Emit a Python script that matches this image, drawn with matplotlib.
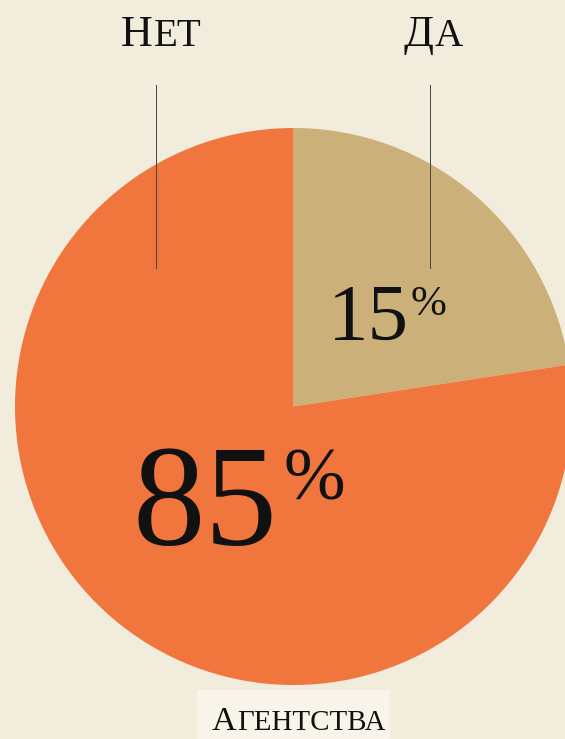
"""Pie chart: Агентства, Нет / Да"""

import matplotlib
matplotlib.use('Agg')
import matplotlib.pyplot as plt

# data
labels = ['Да', 'Нет']
shares = [15, 85]            # printed percentages
slice_sizes = [22.6, 77.4]   # slice sizes as drawn in the picture
colors = ['#CCB07A', '#F0763E']
title = 'Агентства'

W, H = 565, 739
BG = '#F2ECDC'


def pt(px):
    # pixel size -> points at dpi 100
    return px * 72 / 100


def Y(y):
    # image row -> data y
    return H - y


def small_caps(ax, word, x, y, big, small, **kw):
    # first letter large, rest as small caps, placed side by side
    t1 = ax.text(x, Y(y), word[0], fontsize=pt(big), va='baseline', ha='left', **kw)
    fig.canvas.draw()
    bb = t1.get_window_extent()
    x2 = ax.transData.inverted().transform((bb.x1, bb.y0))[0]
    ax.text(x2 + 1, Y(y), word[1:].upper(), fontsize=pt(small), va='baseline', ha='left', **kw)
    return x2


plt.rcParams['font.family'] = ['Liberation Serif', 'DejaVu Serif']

fig = plt.figure(figsize=(W / 100, H / 100), dpi=100, facecolor=BG)
ax = fig.add_axes([0, 0, 1, 1])

cx, cy, r = 293.5, 406.5, 278.5
ax.pie(slice_sizes, colors=colors, startangle=90, counterclock=False,
       center=(cx, Y(cy)), radius=r, frame=True,
       wedgeprops=dict(linewidth=0))
ax.set_xlim(0, W)
ax.set_ylim(0, H)
ax.set_aspect('equal')
ax.axis('off')

# percentages
ax.text(278, Y(545), str(shares[1]), fontsize=pt(145), ha='right', va='baseline', color='#111111')
ax.text(284, Y(499), '%', fontsize=pt(74), ha='left', va='baseline', color='#111111')
ax.text(409, Y(340), str(shares[0]), fontsize=pt(81), ha='right', va='baseline', color='#111111')
ax.text(410, Y(315), '%', fontsize=pt(43), ha='left', va='baseline', color='#111111')

# category labels with leader lines
small_caps(ax, labels[1], 121, 46, 44, 39, color='#111111')
small_caps(ax, labels[0], 404, 46, 44, 39, color='#111111')
ax.plot([156, 156], [Y(85), Y(268)], color='#444444', linewidth=0.7)
ax.plot([430, 430], [Y(85), Y(268)], color='#444444', linewidth=0.7)

# bottom caption on a lighter box
ax.add_patch(plt.Rectangle((197, 0), 193, Y(690), facecolor='#F8F4EA', edgecolor='none'))
small_caps(ax, title, 212, 730, 34, 29, color='#111111')

fig.savefig('out.png', dpi=100, facecolor=BG)
